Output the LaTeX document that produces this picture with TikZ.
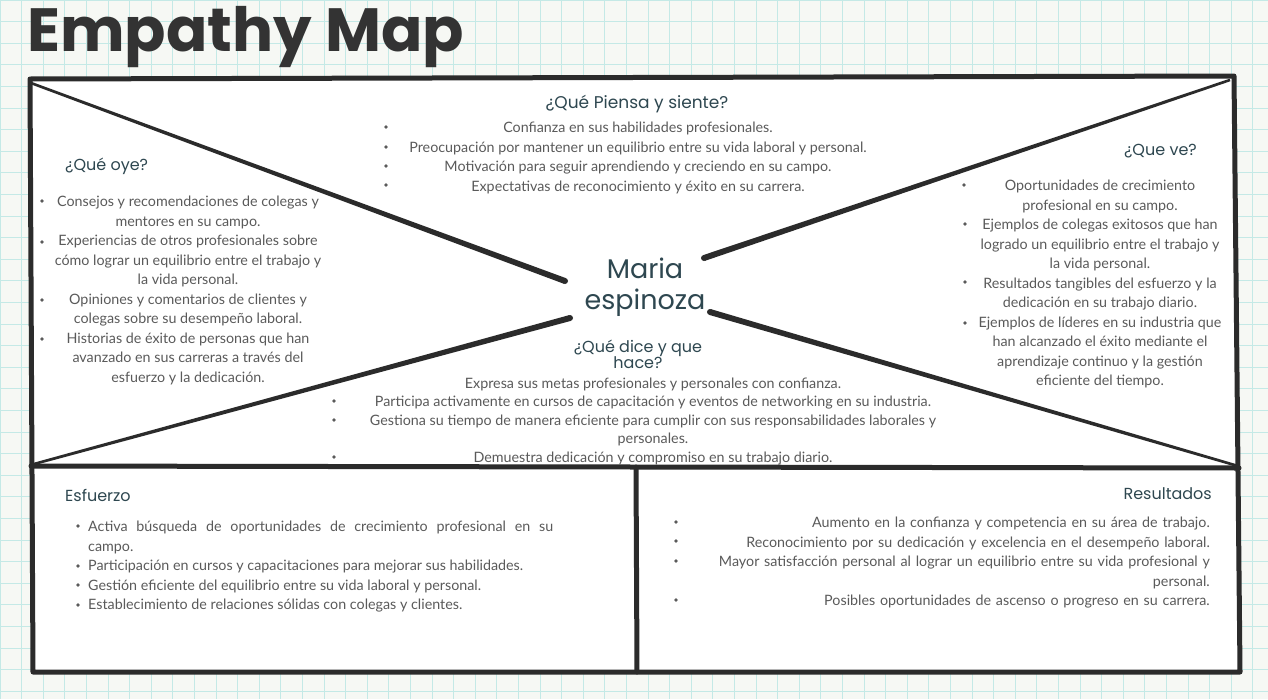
\documentclass[tikz,border=0pt]{standalone}
\usepackage{fontspec}
\setmainfont{Lato}
\newfontfamily\headfont{Poppins}
\newfontfamily\titlefont{Poppins}[UprightFont=* Bold]
\usepackage{tikz}
\usetikzlibrary{calc}
\usepackage{xcolor}

\definecolor{paper}{HTML}{F6F8F4}
\definecolor{gridline}{HTML}{C4E9E6}
\definecolor{ink}{HTML}{2B2B2B}
\definecolor{bodytext}{HTML}{5A5A5A}
\definecolor{headtext}{HTML}{2E4750}
\definecolor{titletext}{HTML}{333333}

\tikzset{
    brush/.style={draw=ink, line width=5pt, line cap=round, line join=round},
    body/.style={text=bodytext, font=\fontsize{14.3}{19.5}\selectfont, inner sep=0pt, align=center},
    head/.style={text=headtext, font=\headfont\fontsize{16}{16}\selectfont, inner sep=0pt},
    dot/.style={fill=bodytext},
}

\begin{document}
\begin{tikzpicture}[x=1pt, y=-1pt]
        \useasboundingbox (0,0) rectangle (1268,699);
        % paper with grid
        \fill[paper] (0,0) rectangle (1268,699);
        \draw[gridline, line width=0.8pt, step=21.6pt] (0,0) grid (1268,699);
        \node[font=\titlefont\fontsize{61}{62}\selectfont, text=titletext, anchor=base west, inner sep=0pt] (title) at (27,51) {Empathy Map};
        % frame corners
        \coordinate (tl) at (30,79);
        \coordinate (tr) at (1234,76);
        \coordinate (br) at (1240,672);
        \coordinate (bl) at (33,672);
        \coordinate (ml) at (31,466);
        \coordinate (mr) at (1239,468);
        \coordinate (mt) at (636,467);
        \coordinate (mb) at (637,672);
        % ends of the X
        \coordinate (ctl) at (31,83);
        \coordinate (ctr) at (1230,80);
        \coordinate (cbl) at (34,464);
        \coordinate (cbr) at (1238,466);
        \coordinate (xtl) at (565,281);
        \coordinate (xtr) at (704,258);
        \coordinate (xbl) at (570,318);
        \coordinate (xbr) at (710,312);
        \fill[white] (tl) -- (tr) -- (br) -- (bl) -- cycle;
        \draw[brush] (tl) -- (tr) -- (br) -- (bl) -- cycle;
        \draw[brush] (ml) -- (mr);
        \draw[brush] (mt) -- (mb);
        % brush strokes, thicker towards the middle
        \foreach \c/\e in {ctl/xtl, ctr/xtr, cbl/xbl, cbr/xbr}{
        \fill[ink] ($(\c)!1.3pt!90:(\e)$) -- ($(\e)!3pt!-90:(\c)$) -- ($(\e)!3pt!90:(\c)$) -- ($(\c)!1.3pt!-90:(\e)$) -- cycle;
        \fill[ink] (\e) circle (3);}
        % persona
        \node[head, font=\headfont\fontsize{27}{31}\selectfont, align=center] (persona) at (645,287) {Maria\\espinoza};
        % headings
        \node[head, font=\headfont\fontsize{17}{16}\selectfont] (think) at (637,104) {¿Qué Piensa y siente?};
        \node[head, anchor=west] (hear) at (65,166) {¿Qué oye?};
        \node[head, anchor=east] (see) at (1197,151) {¿Que ve?};
        \node[head, align=center] (say) at (638,354) {¿Qué dice y que\\hace?};
        \node[head, anchor=west] (effort) at (65,495) {Esfuerzo};
        \node[head, anchor=east] (result) at (1212,494) {Resultados};
        % texts
        \node[body, anchor=north] (thinktxt) at (638,119) {\strut Confianza en sus habilidades profesionales.\\
            Preocupación por mantener un equilibrio entre su vida laboral y personal.\\
            Motivación para seguir aprendiendo y creciendo en su campo.\\
            Expectativas de reconocimiento y éxito en su carrera.};
        \node[body, anchor=north] (heartxt) at (188,193) {\strut Consejos y recomendaciones de colegas y\\
            mentores en su campo.\\
            Experiencias de otros profesionales sobre\\
            cómo lograr un equilibrio entre el trabajo y\\
            la vida personal.\\
            Opiniones y comentarios de clientes y\\
            colegas sobre su desempeño laboral.\\
            Historias de éxito de personas que han\\
            avanzado en sus carreras a través del\\
            esfuerzo y la dedicación.};
        \node[body, anchor=north] (seetxt) at (1100,177) {\strut Oportunidades de crecimiento\\
            profesional en su campo.\\
            Ejemplos de colegas exitosos que han\\
            logrado un equilibrio entre el trabajo y\\
            la vida personal.\\
            Resultados tangibles del esfuerzo y la\\
            dedicación en su trabajo diario.\\
            Ejemplos de líderes en su industria que\\
            han alcanzado el éxito mediante el\\
            aprendizaje continuo y la gestión\\
            eficiente del tiempo.};
        \node[body, font=\fontsize{14.3}{18.5}\selectfont, anchor=north] (saytxt) at (653,375) {\strut Expresa sus metas profesionales y personales con confianza.\\
            Participa activamente en cursos de capacitación y eventos de networking en su industria.\\
            Gestiona su tiempo de manera eficiente para cumplir con sus responsabilidades laborales y\\
            personales.\\
            Demuestra dedicación y compromiso en su trabajo diario.};
        \node[body, anchor=north west, align=justify, text width=465pt] (efforttxt) at (88,518) {\strut Activa búsqueda de oportunidades de crecimiento profesional en su\linebreak campo.\\
            Participación en cursos y capacitaciones para mejorar sus habilidades.\\
            Gestión eficiente del equilibrio entre su vida laboral y personal.\\
            Establecimiento de relaciones sólidas con colegas y clientes.};
        \node[body, anchor=north east, align=right, text width=500pt] (resulttxt) at (1210,514) {\strut Aumento en la confianza y competencia en su área de trabajo.\\
            Reconocimiento por su dedicación y excelencia en el desempeño laboral.\\
            Mayor satisfacción personal al lograr un equilibrio entre su vida profesional y\\
            personal.\\
            Posibles oportunidades de ascenso o progreso en su carrera.};
        % bullets
        \foreach \x/\y in {386/127, 386/147, 386/166, 386/185, 42/201, 42/242, 42/300, 42/339,
            964/185, 965/224, 965/282, 965/323, 334/401, 334/420, 334/457,
            78/526, 78/566, 78/585, 78/605, 676/522, 676/541, 676/561, 676/600}{
        \fill[dot] (\x,\y) circle (1.8);}
\end{tikzpicture}
\end{document}
